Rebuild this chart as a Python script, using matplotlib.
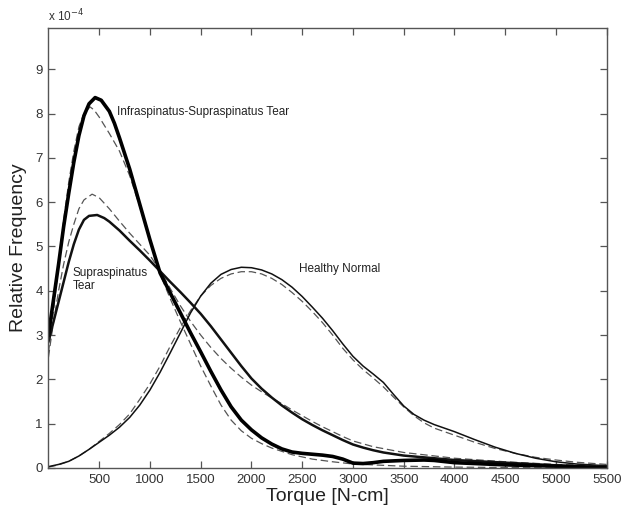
import matplotlib
matplotlib.use("Agg")
import matplotlib.pyplot as plt

plt.rcParams['font.family'] = ['Liberation Sans', 'DejaVu Sans']

# values in units of 1e-4 (relative frequency)
infra_x = [0, 50, 100, 150, 200, 250, 300, 350, 400, 460, 520, 600, 650, 700, 750, 800, 900, 1000,
           1100, 1200, 1300, 1400, 1500, 1600, 1700, 1800, 1900, 2000, 2100, 2200, 2300, 2400, 2500,
           2600, 2700, 2800, 2900, 3000, 3100, 3200, 3300, 3500, 3700, 3800, 4000, 4500, 5000, 5500]
infra_y = [3.0, 3.8, 4.6, 5.45, 6.2, 6.9, 7.5, 7.95, 8.22, 8.36, 8.3, 8.05, 7.78, 7.45, 7.1, 6.75, 5.95, 5.15,
           4.4, 3.95, 3.5, 3.05, 2.62, 2.18, 1.76, 1.38, 1.08, 0.86, 0.68, 0.54, 0.43, 0.36, 0.33,
           0.31, 0.29, 0.26, 0.2, 0.11, 0.1, 0.12, 0.15, 0.17, 0.18, 0.17, 0.12, 0.07, 0.04, 0.0]

infra_fit_x = [0, 50, 100, 150, 200, 250, 300, 350, 410, 450, 500, 600, 700, 800, 900, 1000, 1100,
               1200, 1300, 1400, 1500, 1600, 1700, 1800, 1900, 2000, 2100, 2200, 2400, 2600, 2800,
               3000, 3500, 4000, 5000, 5500]
infra_fit_y = [2.6, 3.55, 4.6, 5.6, 6.45, 7.15, 7.7, 8.0, 8.15, 8.08, 7.92, 7.55, 7.15, 6.6, 5.9, 5.12, 4.38,
               3.82, 3.3, 2.8, 2.3, 1.85, 1.42, 1.08, 0.84, 0.67, 0.55, 0.45, 0.3, 0.2, 0.14,
               0.09, 0.04, 0.02, 0.0, 0.0]

supra_x = [0, 50, 100, 150, 200, 250, 300, 350, 400, 480, 550, 600, 700, 800, 900, 1000, 1100, 1200,
           1300, 1400, 1500, 1600, 1700, 1800, 1900, 2000, 2100, 2200, 2300, 2400, 2500, 2600, 2700,
           2800, 2900, 3000, 3100, 3200, 3300, 3500, 3700, 4000, 4500, 5000, 5500]
supra_y = [2.85, 3.3, 3.75, 4.2, 4.65, 5.05, 5.38, 5.6, 5.69, 5.71, 5.64, 5.56, 5.36, 5.13, 4.91, 4.68, 4.44, 4.2,
           3.97, 3.73, 3.48, 3.2, 2.9, 2.6, 2.3, 2.02, 1.79, 1.59, 1.41, 1.25, 1.1, 0.97, 0.85,
           0.74, 0.63, 0.53, 0.46, 0.4, 0.35, 0.28, 0.24, 0.18, 0.12, 0.06, 0.02]

supra_fit_x = [0, 50, 100, 150, 200, 250, 300, 350, 430, 500, 600, 700, 800, 900, 1000, 1100, 1200,
               1300, 1400, 1500, 1600, 1700, 1800, 1900, 2000, 2100, 2200, 2300, 2400, 2500, 2600,
               2700, 2800, 2900, 3000, 3200, 3500, 4000, 4500, 5000, 5500]
supra_fit_y = [2.5, 3.3, 4.0, 4.6, 5.1, 5.5, 5.85, 6.05, 6.18, 6.1, 5.85, 5.57, 5.3, 5.05, 4.8, 4.45, 4.05,
               3.66, 3.31, 3.0, 2.72, 2.47, 2.25, 2.05, 1.87, 1.72, 1.58, 1.45, 1.31, 1.18, 1.05,
               0.93, 0.82, 0.71, 0.61, 0.48, 0.35, 0.22, 0.14, 0.08, 0.05]

healthy_x = [0, 100, 200, 300, 400, 500, 600, 700, 800, 900, 1000, 1100, 1200, 1300, 1400, 1500, 1600,
             1700, 1800, 1900, 2000, 2100, 2200, 2300, 2400, 2500, 2600, 2700, 2800, 2900, 3000, 3100,
             3200, 3300, 3400, 3500, 3600, 3700, 3800, 3900, 4000, 4200, 4400, 4600, 4800, 5000, 5200, 5500]
healthy_y = [0.03, 0.08, 0.15, 0.27, 0.42, 0.58, 0.74, 0.92, 1.14, 1.42, 1.76, 2.16, 2.6, 3.05, 3.5, 3.88, 4.17,
             4.37, 4.48, 4.53, 4.52, 4.47, 4.38, 4.25, 4.08, 3.87, 3.63, 3.38, 3.1, 2.8, 2.52, 2.3,
             2.12, 1.93, 1.66, 1.4, 1.21, 1.08, 0.98, 0.9, 0.82, 0.64, 0.47, 0.33, 0.22, 0.14, 0.09, 0.05]

healthy_fit_x = [0, 100, 200, 300, 400, 500, 600, 700, 800, 900, 1000, 1100, 1200, 1300, 1400, 1500, 1600,
                 1700, 1800, 1900, 2000, 2100, 2200, 2300, 2400, 2500, 2600, 2700, 2800, 2900, 3000, 3100,
                 3200, 3300, 3400, 3500, 3600, 3700, 3800, 3900, 4000, 4200, 4400, 4600, 4800, 5000, 5200, 5500]
healthy_fit_y = [0.02, 0.07, 0.15, 0.27, 0.42, 0.6, 0.78, 0.98, 1.22, 1.55, 1.9, 2.3, 2.75, 3.17, 3.55, 3.88, 4.12,
                 4.28, 4.38, 4.43, 4.43, 4.38, 4.28, 4.14, 3.96, 3.76, 3.53, 3.28, 3.0, 2.7, 2.44, 2.22,
                 2.03, 1.83, 1.6, 1.38, 1.18, 1.02, 0.9, 0.82, 0.74, 0.58, 0.44, 0.33, 0.24, 0.18, 0.13, 0.08]

x_ticks = [500, 1000, 1500, 2000, 2500, 3000, 3500, 4000, 4500, 5000, 5500]
y_ticks = [0, 1, 2, 3, 4, 5, 6, 7, 8, 9]

fig = plt.figure(figsize=(6.21, 5.15), dpi=100)
ax = fig.add_axes([0.078, 0.0913, 0.899, 0.8543])

dash = (0, (6, 3))
dcol = '#555555'
ax.plot(healthy_fit_x, healthy_fit_y, color=dcol, lw=0.9, linestyle=dash)
ax.plot(supra_fit_x, supra_fit_y, color=dcol, lw=0.9, linestyle=dash)
ax.plot(infra_fit_x, infra_fit_y, color=dcol, lw=0.9, linestyle=dash)
ax.plot(healthy_x, healthy_y, color='#111111', lw=1.1)
ax.plot(supra_x, supra_y, color='#111111', lw=1.8)
ax.plot(infra_x, infra_y, color='#000000', lw=2.6)

ax.set_xlim(0, 5500)
ax.set_ylim(0, 9.93)
ax.set_xticks(x_ticks)
ax.set_yticks(y_ticks)
ax.set_xticklabels([str(v) for v in x_ticks])
ax.set_yticklabels([str(v) for v in y_ticks])
ax.tick_params(direction='in', top=True, right=True, length=5, width=0.9,
               color='#555555', labelsize=9.5, labelcolor='#333333', pad=4)
for s in ax.spines.values():
    s.set_color('#555555')
    s.set_linewidth(1.0)

ax.set_xlabel('Torque [N-cm]', fontsize=14, color='#222222', labelpad=2)
ax.set_ylabel('Relative Frequency', fontsize=14, color='#222222', labelpad=6)

ax.text(0.0, 1.008, 'x 10$^{-4}$', transform=ax.transAxes, fontsize=8.5, color='#333333',
        ha='left', va='bottom')
ax.text(672, 8.03, 'Infraspinatus-Supraspinatus Tear', fontsize=8.5, color='#222222',
        ha='left', va='center')
ax.text(240, 4.25, 'Supraspinatus\nTear', fontsize=8.5, color='#222222', ha='left',
        va='center', linespacing=1.1)
ax.text(2471, 4.5, 'Healthy Normal', fontsize=8.5, color='#222222', ha='left', va='center')

fig.savefig('out.png', dpi=100)
